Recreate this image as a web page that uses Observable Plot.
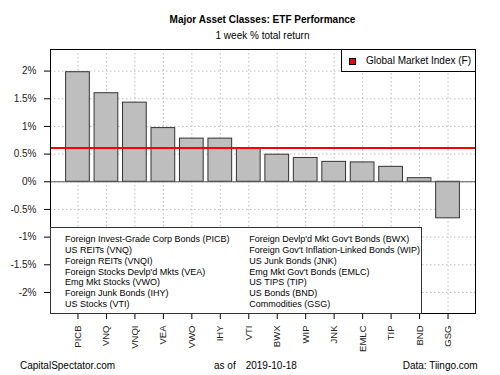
<!DOCTYPE html>
<html><head><meta charset="utf-8">
<script src="https://cdn.jsdelivr.net/npm/d3@7"></script>
<script src="https://cdn.jsdelivr.net/npm/@observablehq/plot@0.6"></script>
<style>
body{margin:0;background:#fff;font-family:"Liberation Sans",Arial,sans-serif;}
#wrap{position:relative;width:500px;height:375px;overflow:hidden;background:#fff}
#wrap svg{position:absolute;left:0;top:0}
.t{position:absolute;white-space:nowrap;color:#000;line-height:1;font-size:10px}
.box{position:absolute;background:#fff;border:1px solid #333;box-sizing:border-box}
.col{position:absolute;font-size:9px;line-height:10.8px;white-space:nowrap;color:#000}
</style></head><body><div id="wrap"></div>
<script>
const tickers = ["PICB","VNQ","VNQI","VEA","VWO","IHY","VTI","BWX","WIP","JNK","EMLC","TIP","BND","GSG"];
const names = [
  "Foreign Invest-Grade Corp Bonds (PICB)",
  "US REITs (VNQ)",
  "Foreign REITs (VNQI)",
  "Foreign Stocks Devlp'd Mkts (VEA)",
  "Emg Mkt Stocks (VWO)",
  "Foreign Junk Bonds (IHY)",
  "US Stocks (VTI)",
  "Foreign Devlp'd Mkt Gov't Bonds (BWX)",
  "Foreign Gov't Inflation-Linked Bonds (WIP)",
  "US Junk Bonds (JNK)",
  "Emg Mkt Gov't Bonds (EMLC)",
  "US TIPS (TIP)",
  "US Bonds (BND)",
  "Commodities (GSG)"
];
const returns = [1.98, 1.60, 1.43, 0.97, 0.78, 0.78, 0.60, 0.49, 0.43, 0.36, 0.35, 0.27, 0.065, -0.66];
const gmiValue = 0.61;
const gmiLabel = "Global Market Index (F)";
const yTicks = [-2, -1.5, -1, -0.5, 0, 0.5, 1, 1.5, 2];
const title = "Major Asset Classes: ETF Performance";
const subtitle = "1 week % total return";
const footLeft = "CapitalSpectator.com";
const footMidA = "as of";
const footMidB = "2019-10-18";
const footRight = "Data: Tiingo.com";

const data = tickers.map((t, i) => ({ticker: t, value: returns[i]}));
const gridStyle = {stroke: "#bdbdbd", strokeOpacity: 1, strokeDasharray: "1.5,2.5"};

const chart = Plot.plot({
  width: 500, height: 375,
  marginTop: 49, marginBottom: 62, marginLeft: 50, marginRight: 25,
  style: {fontFamily: '"Liberation Sans", Arial, sans-serif', fontSize: "10px", background: "transparent", color: "#000"},
  x: {domain: tickers, paddingInner: 0.1667, paddingOuter: 0.548, round: false, label: null},
  y: {domain: [-2.38, 2.39], label: null},
  marks: [
    Plot.gridY(yTicks, gridStyle),
    Plot.gridX(tickers, gridStyle),
    Plot.barY(data, {x: "ticker", y: "value", fill: "#bebebe", stroke: "#333", strokeWidth: 1}),
    Plot.ruleY([0], {stroke: "#555"}),
    Plot.ruleY([gmiValue], {stroke: "#ff0000", strokeWidth: 2}),
    Plot.axisY(yTicks, {tickFormat: d => `${d}%`, tickSize: 6, tickPadding: 8, fontSize: 10, label: null, fill: "#222"}),
    Plot.axisX(tickers, {tickRotate: -90, tickSize: 6, tickPadding: 6, fontSize: 9.5, label: null, fill: "#222"}),
    Plot.frame({stroke: "#000"})
  ]
});
const wrap = document.getElementById("wrap");
wrap.appendChild(chart);

function addText(txt, css, cls = "t") {
  const d = document.createElement("div");
  d.className = cls;
  d.textContent = txt;
  Object.assign(d.style, css);
  wrap.appendChild(d);
  return d;
}
addText(title, {left: "50px", width: "425px", textAlign: "center", top: "14.5px", fontWeight: "bold"});
addText(subtitle, {left: "50px", width: "425px", textAlign: "center", top: "30.5px"});
addText(footLeft, {left: "20px", top: "360.5px"});
addText(footMidA, {left: "214px", top: "360.5px"});
addText(footMidB, {left: "245.7px", top: "360.5px"});
addText(footRight, {right: "22.3px", top: "360.5px"});

// top-right legend
const lg = document.createElement("div");
lg.className = "box";
Object.assign(lg.style, {left: "341px", top: "49px", width: "135px", height: "23px", border: "1px solid #000"});
wrap.appendChild(lg);
const sw = document.createElement("div");
Object.assign(sw.style, {position: "absolute", left: "349px", top: "58px", width: "7px", height: "7px", background: "#ff0000", border: "1px solid #000", boxSizing: "border-box"});
wrap.appendChild(sw);
addText(gmiLabel, {left: "366px", top: "56px"});

// bottom legend
const bl = document.createElement("div");
bl.className = "box";
Object.assign(bl.style, {left: "50px", top: "226.5px", width: "372px", height: "87px"});
wrap.appendChild(bl);
const half = Math.ceil(names.length / 2);
addText(names.slice(0, half).join("\n"), {left: "65px", top: "234.2px", whiteSpace: "pre"}, "col");
addText(names.slice(half).join("\n"), {left: "249.3px", top: "234.2px", whiteSpace: "pre"}, "col");
</script>
</body></html>
